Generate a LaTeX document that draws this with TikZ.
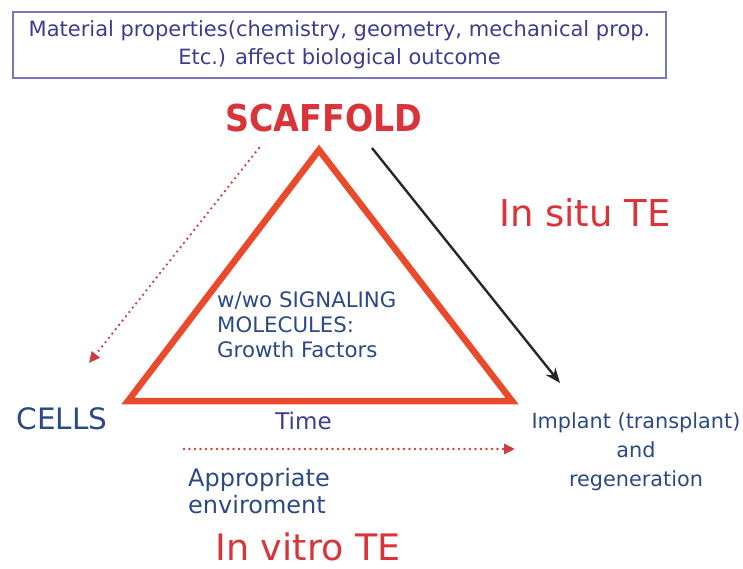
\documentclass[tikz,border=0pt]{standalone}
\usepackage{fontspec}
\setmainfont{DejaVu Sans}
\newfontfamily\scafont[FakeStretch=0.9]{DejaVu Sans Bold}
\usetikzlibrary{arrows.meta}
\definecolor{navy}{HTML}{3D3D8F}
\definecolor{tblue}{HTML}{2B4A85}
\definecolor{sred}{HTML}{D9343A}
\definecolor{dred}{HTML}{C84040}
\definecolor{tri}{HTML}{EA4A2C}
\definecolor{boxline}{HTML}{7777BB}
\begin{document}
\begin{tikzpicture}[x=1pt,y=-1pt,
  lbl/.style={inner sep=0pt, text=tblue, align=center},
  big/.style={inner sep=0pt, font=\fontsize{37}{42}\selectfont, text=sred},
  dotarrow/.style={draw=dred, line width=2.6pt, line cap=round, dash pattern=on 0pt off 5.5pt,
     -{Triangle[length=11pt,width=10pt,line cap=butt,fill=sred]}},
  blackarrow/.style={draw=black!85, line width=2.4pt, -{Stealth[length=15pt,width=12pt]}}]
\useasboundingbox (0,0) rectangle (743,568);
\node[draw=boxline, line width=1.2pt, minimum width=653pt, minimum height=66pt, inner sep=0pt,
  text=navy, align=center, font=\fontsize{21}{28}\selectfont] (box) at (339.5,45)
  {Material properties(chemistry, geometry, mechanical prop.\\Etc.) affect biological outcome};
\node[big, font=\scafont\fontsize{37}{42}\selectfont] (scaf) at (324,118.5) {SCAFFOLD};
\coordinate (A) at (319,150);
\coordinate (B) at (128,401);
\coordinate (C) at (512,401);
\draw[tri, line width=6.5pt, line join=miter] (A) -- (B) -- (C) -- cycle;
\node[lbl, align=left, anchor=north west, font=\fontsize{21.3}{25}\selectfont] (sig) at (217,291.5)
  {w/wo SIGNALING\\MOLECULES:\\Growth Factors};
\coordinate (d1s) at (259,148);
\coordinate (d1e) at (89,363);
\draw[dotarrow] (d1s) -- (d1e);
\coordinate (b1s) at (372,148);
\coordinate (b1e) at (560,383);
\draw[blackarrow] (b1s) -- (b1e);
\node[big] (situ) at (585,212.5) {In situ TE};
\node[lbl, font=\fontsize{29.5}{32}\selectfont] (cells) at (62,418.5) {CELLS};
\node[lbl, text=navy, font=\fontsize{23}{27}\selectfont] (time) at (303.5,421) {Time};
\coordinate (d2s) at (184,449);
\coordinate (d2e) at (515,449);
\draw[dotarrow] (d2s) -- (d2e);
\node[lbl, align=left, anchor=north west, font=\fontsize{24}{27}\selectfont] (env) at (188,468) {Appropriate\\enviroment};
\node[big, font=\fontsize{36.5}{40}\selectfont, anchor=base] (vitro) at (308,560.5) {In vitro TE};
\node[lbl, anchor=north, font=\fontsize{20.8}{29}\selectfont] (impl) at (636,412) {Implant (transplant)\\and\\regeneration};
\end{tikzpicture}
\end{document}
